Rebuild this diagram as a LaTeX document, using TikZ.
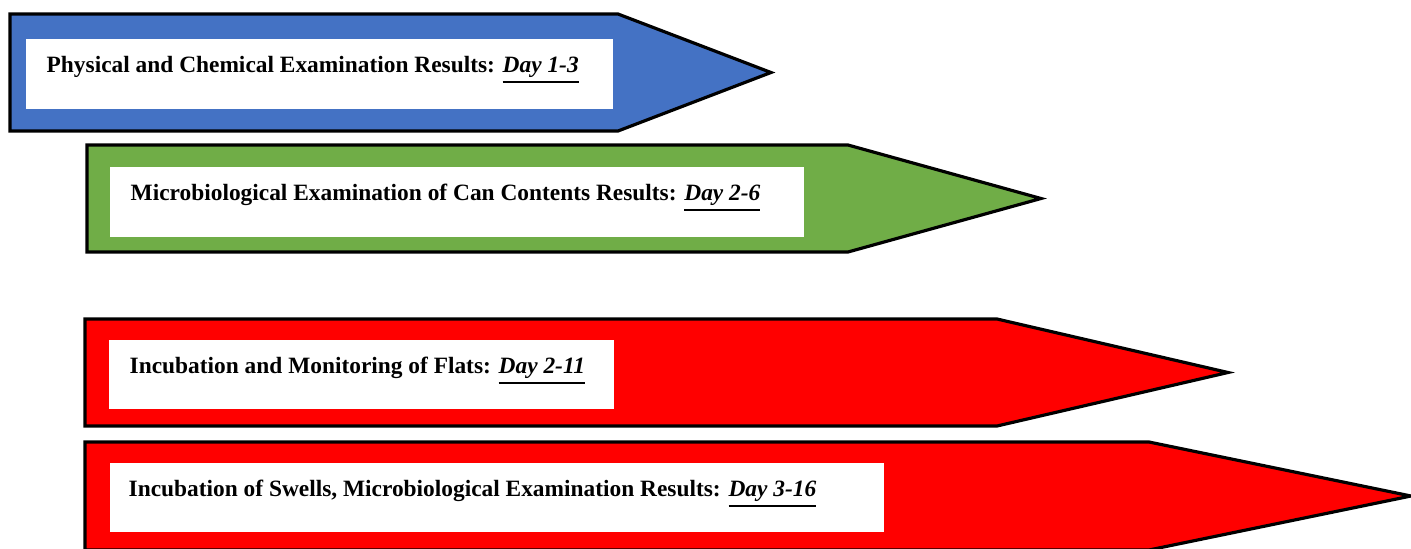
\documentclass[tikz,border=0pt]{standalone}
\usepackage{fontspec}
\setmainfont{Liberation Serif}
\usetikzlibrary{positioning}
\definecolor{physblue}{HTML}{4472C4}
\definecolor{microgreen}{HTML}{70AD47}
\definecolor{incubred}{HTML}{FF0000}
\begin{document}
\begin{tikzpicture}[
  x=0.01cm, y=-0.01cm,
  stage/.style={draw=black, line width=0.9pt, line join=miter},
  whitebox/.style={rectangle, fill=white, inner sep=0pt, anchor=north west},
  stagetext/.style={anchor=base west, inner sep=0pt, font=\fontsize{6.65}{7}\selectfont\bfseries},
]
\useasboundingbox (0,0) rectangle (1411,548);

% stage arrows
\draw[stage, fill=physblue] (10,14) -- (618,14) -- (771,72.5) -- (618,131) -- (10,131) -- cycle;
\draw[stage, fill=microgreen] (87,145) -- (848,145) -- (1041,198.5) -- (848,252) -- (87,252) -- cycle;
\draw[stage, fill=incubred] (85,319) -- (997,319) -- (1228,372.5) -- (997,426) -- (85,426) -- cycle;
\draw[stage, fill=incubred] (85,442) -- (1149,442) -- (1411,496) -- (1149,550) -- (85,550) -- cycle;

% white label boxes
\node[whitebox, minimum width=5.87cm, minimum height=0.70cm] (physbox) at (25,38) {};
\node[whitebox, minimum width=6.94cm, minimum height=0.70cm] (microbox) at (109,166) {};
\node[whitebox, minimum width=5.05cm, minimum height=0.69cm] (flatbox) at (108,339) {};
\node[whitebox, minimum width=7.74cm, minimum height=0.69cm] (swellbox) at (109,462) {};

\node[stagetext] (physlbl) at ([shift={(21,34)}]physbox.north west)
  {Physical and Chemical Examination Results: \underline{\textit{Day 1-3}}};
\node[stagetext] (microlbl) at ([shift={(21,34)}]microbox.north west)
  {Microbiological Examination of Can Contents Results: \underline{\textit{Day 2-6}}};
\node[stagetext] (flatlbl) at ([shift={(21,34)}]flatbox.north west)
  {Incubation and Monitoring of Flats: \underline{\textit{Day 2-11}}};
\node[stagetext] (swelllbl) at ([shift={(19,34)}]swellbox.north west)
  {Incubation of Swells, Microbiological Examination Results: \underline{\textit{Day 3-16}}};
\end{tikzpicture}
\end{document}
